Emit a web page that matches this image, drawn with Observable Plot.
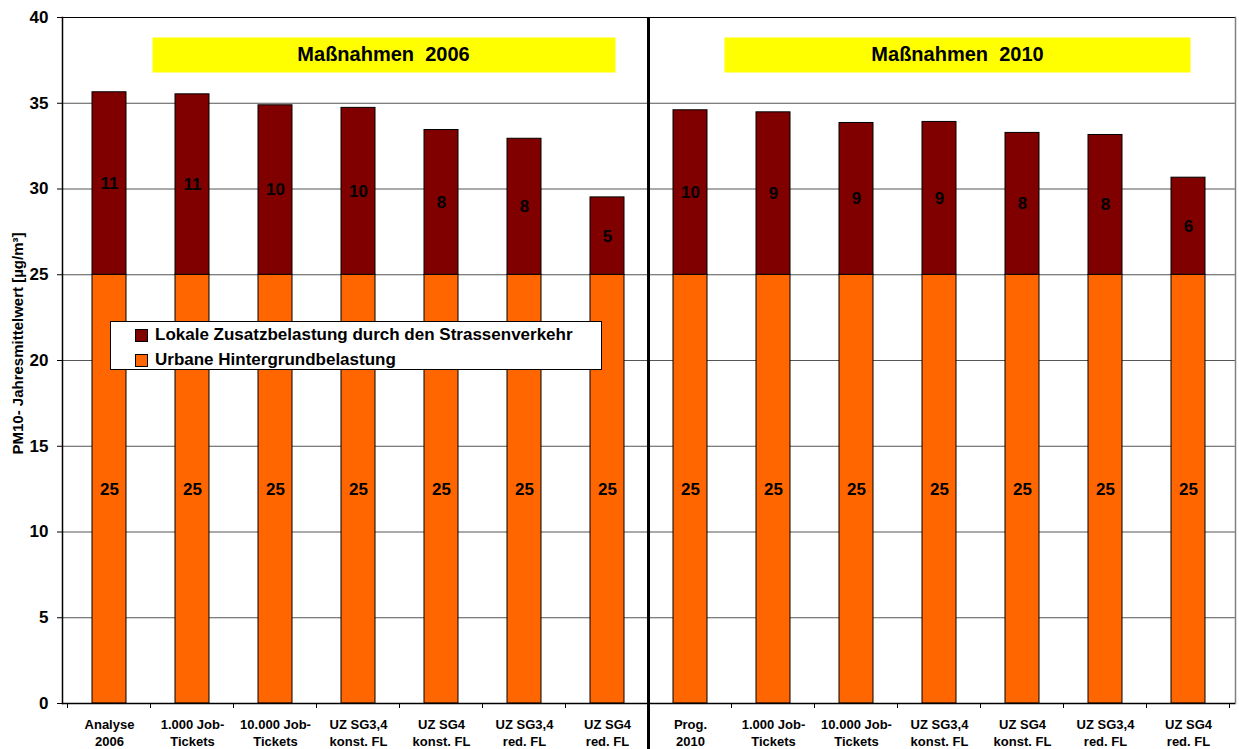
<!DOCTYPE html>
<html>
<head>
<meta charset="utf-8">
<script src="https://cdn.jsdelivr.net/npm/d3@7"></script>
<script src="https://cdn.jsdelivr.net/npm/@observablehq/plot@0.6"></script>
<style>
  html, body { margin: 0; padding: 0; background: #fff; }
  #wrap { position: relative; width: 1239px; height: 749px; font-family: "Liberation Sans", Arial, sans-serif; }
  #wrap svg text { white-space: pre; }
  .legend { position: absolute; left: 110px; top: 321px; width: 490px; height: 47px; border: 1px solid #000; background: #fff; font-weight: bold; font-size: 17px; }
  .legend .row { position: absolute; left: 24px; display: flex; align-items: center; height: 20px; }
  .legend .sw { width: 11px; height: 11px; border: 1px solid #000; margin-right: 7px; }
</style>
</head>
<body>
<div id="wrap"></div>
<script>
// ---- data ----
const categories2006 = ["Analyse\n2006", "1.000 Job-\nTickets", "10.000 Job-\nTickets", "UZ SG3,4\nkonst. FL", "UZ SG4\nkonst. FL", "UZ SG3,4\nred. FL", "UZ SG4\nred. FL"];
const categories2010 = ["Prog.\n2010", "1.000 Job-\nTickets", "10.000 Job-\nTickets", "UZ SG3,4\nkonst. FL", "UZ SG4\nkonst. FL", "UZ SG3,4\nred. FL", "UZ SG4\nred. FL"];
const background2006 = [25, 25, 25, 25, 25, 25, 25];
const local2006 = [10.64, 10.52, 9.88, 9.73, 8.44, 7.93, 4.51];
const background2010 = [25, 25, 25, 25, 25, 25, 25];
const local2010 = [9.59, 9.47, 8.85, 8.91, 8.27, 8.15, 5.66];
const seriesNames = ["Lokale Zusatzbelastung durch den Strassenverkehr", "Urbane Hintergrundbelastung"];
const seriesColors = ["#800000", "#FF6600"];
const panelTitles = ["Maßnahmen  2006", "Maßnahmen  2010"];
const yTicks = [0, 5, 10, 15, 20, 25, 30, 35, 40];
const yLabel = "PM10- Jahresmittelwert [µg/m³]";

// ---- table ----
const labels = [...categories2006, ...categories2010];
const keys = labels.map((_, i) => String(i));
const bg = [...background2006, ...background2010];
const loc = [...local2006, ...local2010];
const rows = [];
keys.forEach((k, i) => {
  rows.push({key: k, series: seriesNames[1], value: bg[i]});
  rows.push({key: k, series: seriesNames[0], value: loc[i]});
});
const order = [seriesNames[1], seriesNames[0]];

// custom mark: band boundary ticks + panel divider, computed from the x scale
function bandDecor(index, scales, values, dims) {
  const x = scales.x;
  const dom = x.domain();
  const bw = typeof x.bandwidth === "function" ? x.bandwidth() : x.bandwidth;
  const step = x(dom[1]) - x(dom[0]);
  const gap = (step - bw) / 2;
  const y0 = dims.height - dims.marginBottom;
  const g = d3.create("svg:g");
  const bounds = dom.map(k => x(k) - gap);
  bounds.push(x(dom[dom.length - 1]) + bw + gap);
  bounds.forEach(xb => {
    g.append("line").attr("x1", xb).attr("x2", xb).attr("y1", y0).attr("y2", y0 + 5)
      .attr("stroke", "#000").attr("stroke-width", 1);
  });
  const xd = x(dom[categories2006.length]) - gap;
  g.append("line").attr("x1", xd).attr("x2", xd).attr("y1", dims.marginTop).attr("y2", dims.height)
    .attr("stroke", "#000").attr("stroke-width", 3);
  return g.node();
}

const chart = Plot.plot({
  width: 1239,
  height: 749,
  marginLeft: 62,
  marginRight: 4,
  marginTop: 17,
  marginBottom: 46,
  style: {fontFamily: "'Liberation Sans', Arial, sans-serif", background: "#fff", color: "#000"},
  x: {domain: keys, paddingInner: 0.594, paddingOuter: 0.297, align: 0.5},
  y: {domain: [0, 40]},
  color: {domain: seriesNames, range: seriesColors},
  marks: [
    Plot.gridY(yTicks.filter(t => t > 0 && t < 40), {stroke: "#555", strokeOpacity: 1}),
    Plot.frame({fill: "#FFFF00", stroke: null, insetLeft: 90, insetRight: 620, insetTop: 20, insetBottom: 631}),
    Plot.frame({fill: "#FFFF00", stroke: null, insetLeft: 662, insetRight: 45, insetTop: 20, insetBottom: 631}),
    Plot.text([panelTitles[0]], {frameAnchor: "top-left", dx: 321, dy: 37, lineAnchor: "middle", fontSize: 20, fontWeight: "bold", textAnchor: "middle"}),
    Plot.text([panelTitles[1]], {frameAnchor: "top-left", dx: 895, dy: 37, lineAnchor: "middle", fontSize: 20, fontWeight: "bold", textAnchor: "middle"}),
    Plot.barY(rows, {x: "key", y: "value", z: "series", fill: "series", order, stroke: "#000", strokeWidth: 1}),
    Plot.text(rows, Plot.stackY({x: "key", y: "value", z: "series", order, text: d => Math.round(d.value), fontSize: 17, fontWeight: "bold", fill: "#000"})),
    Plot.frame({anchor: "top", stroke: "#000"}),
    Plot.frame({anchor: "right", stroke: "#808080", strokeWidth: 1.5}),
    Plot.frame({anchor: "left", stroke: "#000", strokeWidth: 1.5}),
    Plot.ruleY([0], {stroke: "#000", strokeWidth: 1.5}),
    Plot.axisY({ticks: yTicks, tickSize: 5, tickPadding: 9, fontSize: 17, fontWeight: "bold", label: null}),
    Plot.axisX({tickSize: 0, tickPadding: 13, tickFormat: k => labels[+k], fontSize: 13, fontWeight: "bold", lineHeight: 1.32, label: null}),
    Plot.text([yLabel], {frameAnchor: "left", dx: -44, dy: -17, rotate: -90, fontSize: 15, fontWeight: "bold", textAnchor: "middle"}),
    bandDecor
  ]
});

const wrap = document.getElementById("wrap");
wrap.appendChild(chart);

// legend overlay
const legend = document.createElement("div");
legend.className = "legend";
seriesNames.forEach((name, i) => {
  const row = document.createElement("div");
  row.className = "row";
  row.style.top = (i === 0 ? 3 : 28) + "px";
  const sw = document.createElement("div");
  sw.className = "sw";
  sw.style.background = seriesColors[i];
  const t = document.createElement("span");
  t.textContent = name;
  row.appendChild(sw);
  row.appendChild(t);
  legend.appendChild(row);
});
wrap.appendChild(legend);
</script>
</body>
</html>
